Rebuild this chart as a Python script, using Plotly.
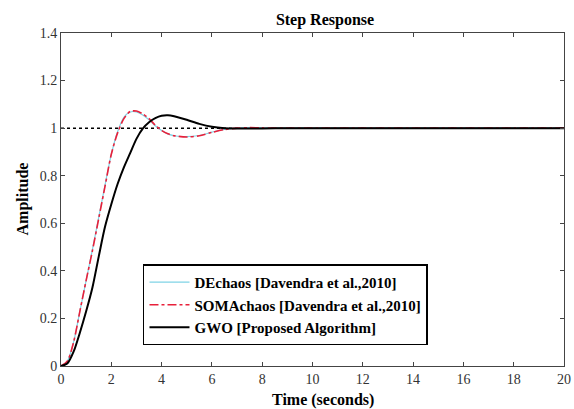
import plotly.graph_objects as go

t = [0, 0.25, 0.5, 0.75, 1.0, 1.25, 1.5, 1.75, 2.0, 2.25, 2.5, 2.75, 3.0, 3.25, 3.5,
     3.75, 4.0, 4.25, 4.5, 5.0, 5.5, 6.0, 6.5, 7.0, 7.5, 8.0, 9.0, 10.0, 12.0, 14.0,
     16.0, 18.0, 20.0]

de_chaos = [0, 0.02, 0.10, 0.23, 0.36, 0.49, 0.625, 0.76, 0.89, 0.985, 1.045, 1.068, 1.068,
            1.055, 1.035, 1.01, 0.99, 0.976, 0.968, 0.964, 0.969, 0.983, 0.995, 1.0, 1.002,
            1.001, 1.0, 1.0, 1.0, 1.0, 1.0, 1.0, 1.0]

soma_chaos = [0, 0.02, 0.10, 0.23, 0.36, 0.485, 0.62, 0.755, 0.89, 0.98, 1.04, 1.07, 1.072,
              1.06, 1.04, 1.012, 0.99, 0.976, 0.968, 0.963, 0.968, 0.982, 0.994, 1.0, 1.002,
              1.001, 1.0, 1.0, 1.0, 1.0, 1.0, 1.0, 1.0]

gwo = [0, 0.01, 0.06, 0.14, 0.23, 0.33, 0.46, 0.585, 0.68, 0.765, 0.835, 0.895, 0.955,
       0.998, 1.025, 1.042, 1.052, 1.054, 1.05, 1.035, 1.018, 1.006, 1.0, 0.998, 0.999,
       0.999, 1.0, 1.0, 1.0, 1.0, 1.0, 1.0, 1.0]

ref_level = 1.0

x_ticks = [0, 2, 4, 6, 8, 10, 12, 14, 16, 18, 20]
y_ticks = [0, 0.2, 0.4, 0.6, 0.8, 1, 1.2, 1.4]
y_tick_text = ["0", "0.2", "0.4", "0.6", "0.8", "1", "1.2", "1.4"]

serif = "Liberation Serif"

fig = go.Figure()
fig.add_trace(go.Scatter(x=t, y=de_chaos, mode="lines", name="DEchaos [Davendra et al.,2010]",
                         line=dict(color="#7fd3e6", width=1.2, shape="spline", smoothing=0.8)))
fig.add_trace(go.Scatter(x=t, y=soma_chaos, mode="lines", name="SOMAchaos [Davendra et al.,2010]",
                         line=dict(color="#e8203a", width=1.6, dash="dashdot", shape="spline", smoothing=0.8)))
fig.add_trace(go.Scatter(x=t, y=gwo, mode="lines", name="GWO [Proposed Algorithm]",
                         line=dict(color="black", width=2, shape="spline", smoothing=0.8)))
fig.add_hline(y=ref_level, line=dict(color="black", width=1.5, dash="dot"), layer="below")

axis_common = dict(showgrid=False, zeroline=False, showline=True, linecolor="#444444", linewidth=1,
                   mirror="ticks", ticks="inside", ticklen=4, tickcolor="#444444",
                   automargin=False,
                   tickfont=dict(family=serif, size=14, color="#333333"))

fig.update_layout(
    width=574, height=409,
    margin=dict(l=61, r=10, t=33, b=43, autoexpand=False),
    paper_bgcolor="white", plot_bgcolor="white",
    font=dict(family=serif),
    title=dict(text="<b>Step Response</b>", x=325 / 574, xanchor="center",
               y=1 - 19 / 409, yanchor="middle",
               font=dict(family=serif, size=16, color="black")),
    xaxis=dict(range=[0, 20], tickvals=x_ticks, **axis_common),
    yaxis=dict(range=[0, 1.4], tickvals=y_ticks, ticktext=y_tick_text, **axis_common),
    legend=dict(x=0.163, y=0.305, xanchor="left", yanchor="top",
                bordercolor="black", borderwidth=1.5, bgcolor="white",
                font=dict(family=serif, size=15, color="black", weight="bold"),
                tracegroupgap=0, itemwidth=40),
    showlegend=True,
    annotations=[
        dict(text="<b>Time (seconds)</b>", xref="paper", yref="paper",
             x=(323 - 61) / 503, y=(366 - 400) / 333, xanchor="center", yanchor="middle",
             showarrow=False, font=dict(family=serif, size=16, color="black")),
        dict(text="<b>Amplitude</b>", xref="paper", yref="paper", textangle=-90,
             x=(22 - 61) / 503, y=0.5, xanchor="center", yanchor="middle",
             showarrow=False, font=dict(family=serif, size=16, color="black")),
    ],
)

fig.write_html("out.html", post_script="document.body.style.margin='0';",
               config={"displayModeBar": False})
